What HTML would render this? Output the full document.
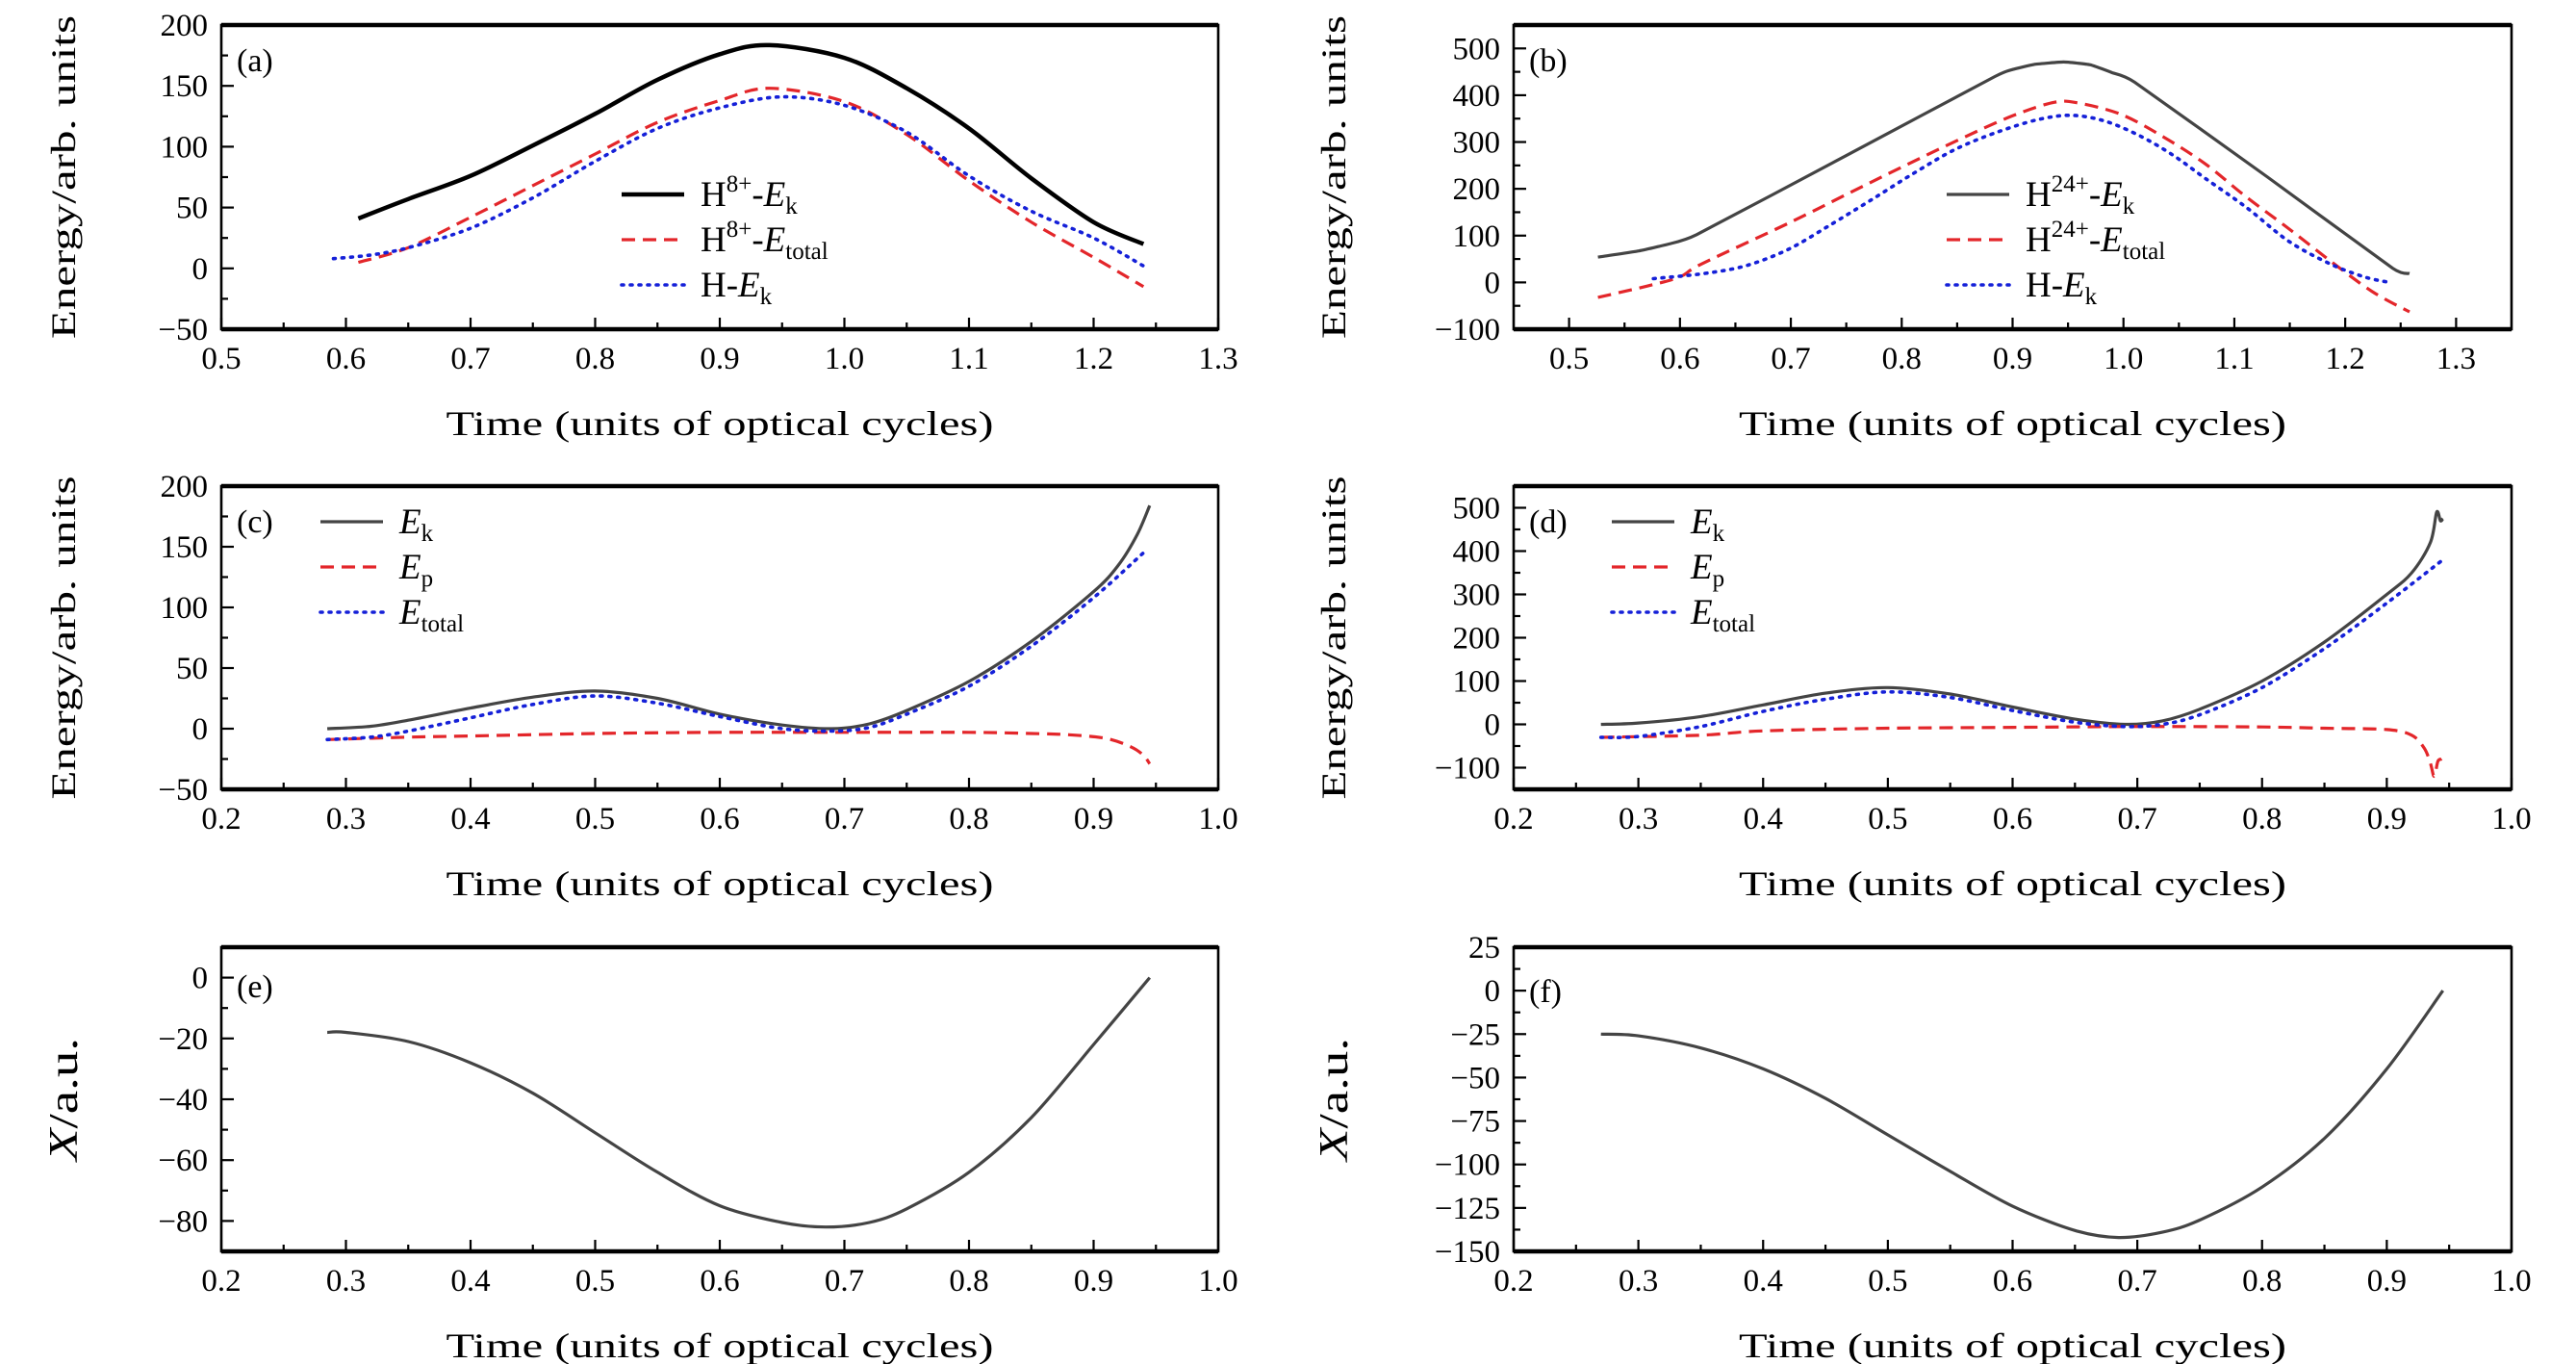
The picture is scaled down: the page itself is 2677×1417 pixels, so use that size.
<!DOCTYPE html>
<html><head><meta charset="utf-8"><style>
html,body{margin:0;padding:0;background:#fff;}
svg{display:block;font-family:"Liberation Serif",serif;}
</style></head><body>
<svg id="fig" width="2677" height="1417" viewBox="0 0 2677 1417" xmlns="http://www.w3.org/2000/svg"></svg>
<script>
// ---- Panel (a) data ----
const aEkX=[0.61,0.65,0.7,0.75,0.8,0.85,0.9,0.94,1.0,1.05,1.1,1.15,1.2,1.24];
const aEkY=[41,57,76,101,127,155,176,183.5,173,148,115,74,38,20];
const aEtX=[0.61,0.65,0.7,0.75,0.8,0.85,0.9,0.94,1.0,1.05,1.1,1.15,1.2,1.24];
const aEtY=[5,17,42,68,94,120,138,148,137,110,72,38,9,-15];
const aHX=[0.59,0.62,0.65,0.7,0.75,0.8,0.85,0.9,0.95,1.0,1.05,1.1,1.15,1.2,1.24];
const aHY=[8,11,17,33,58,88,115,132,141,134,112,76,47,25,2];
// ---- Panel (b) data ----
const bEkX=[0.526,0.562,0.59,0.615,0.75,0.884,0.9,0.92,0.946,0.97,0.99,1.01,1.13,1.243,1.258];
const bEkY=[54,67,82,102,271,440,455,466,471,465,448,428,225,30,19];
const bEtX=[0.526,0.57,0.6,0.62,0.7,0.773,0.848,0.9,0.938,0.96,0.998,1.036,1.074,1.11,1.149,1.186,1.224,1.258];
const bEtY=[-32,-8,12,40,129,215,301,356,385,383,359,311,253,184,115,47,-19,-63];
const bHX=[0.576,0.622,0.66,0.698,0.735,0.773,0.81,0.848,0.886,0.923,0.953,0.983,1.014,1.044,1.074,1.111,1.149,1.186,1.217,1.24];
const bHY=[8,19,36,71,122,177,232,284,321,348,357,345,314,273,222,160,88,40,12,0];
// ---- Panel (c) data ----
const cEkX=[0.285,0.32,0.35,0.4,0.45,0.5,0.55,0.6,0.65,0.69,0.72,0.75,0.8,0.85,0.9,0.92,0.935,0.945];
const cEkY=[0,2,7,17,26,31,25,12,3,0,4,15,39,72,113,135,160,184];
const cEtX=[0.285,0.32,0.35,0.4,0.45,0.5,0.55,0.6,0.65,0.69,0.72,0.75,0.8,0.85,0.9,0.94];
const cEtY=[-9,-7,-2,9,20,27,21,10,0,-2,1,12,35,68,108,145];
const cEpX=[0.285,0.35,0.4,0.5,0.6,0.7,0.8,0.85,0.88,0.91,0.93,0.94,0.945];
const cEpY=[-9,-7,-6,-4,-3,-3,-3,-4,-5,-8,-15,-22,-29];
// ---- Panel (d) data ----
const dEkX=[0.27,0.3,0.35,0.4,0.45,0.5,0.55,0.6,0.65,0.69,0.72,0.75,0.8,0.85,0.9,0.92,0.935,0.94,0.943,0.945];
const dEkY=[0,3,18,45,72,85,70,40,12,0,8,35,100,190,300,350,420,490,470,475];
const dEtX=[0.27,0.3,0.35,0.4,0.45,0.5,0.55,0.6,0.65,0.69,0.72,0.75,0.8,0.85,0.9,0.945];
const dEtY=[-30,-28,-5,30,58,75,62,32,5,-5,0,22,85,175,280,380];
const dEpX=[0.27,0.35,0.4,0.5,0.6,0.7,0.8,0.85,0.9,0.92,0.93,0.935,0.938,0.941,0.944];
const dEpY=[-30,-25,-15,-9,-7,-5,-6,-9,-12,-25,-55,-90,-120,-85,-80];
// ---- Panel (e) data ----
const eX=[0.285,0.3,0.35,0.4,0.45,0.5,0.55,0.6,0.65,0.685,0.72,0.75,0.8,0.85,0.9,0.945];
const eY=[-18,-18,-21,-28,-38,-51,-64,-75,-80.5,-82,-80.5,-76,-64,-46,-22,0];
// ---- Panel (f) data ----
const fX=[0.27,0.3,0.35,0.4,0.45,0.5,0.55,0.6,0.65,0.685,0.72,0.75,0.8,0.85,0.9,0.945];
const fY=[-25,-26,-33,-45,-62,-83,-104,-124,-138,-142,-139,-132,-113,-85,-45,0];
// ---- tick labels ----
const xTicksAB=["0.5","0.6","0.7","0.8","0.9","1.0","1.1","1.2","1.3"];
const xTicksCF=["0.2","0.3","0.4","0.5","0.6","0.7","0.8","0.9","1.0"];
const yTicksA=[-50,0,50,100,150,200];
const yTicksB=[-100,0,100,200,300,400,500];
const yTicksC=[-50,0,50,100,150,200];
const yTicksD=[-100,0,100,200,300,400,500];
const yTicksE=[-80,-60,-40,-20,0];
const yTicksF=[-150,-125,-100,-75,-50,-25,0,25];

const NS="http://www.w3.org/2000/svg";
const svg=document.getElementById('fig');
function mk(tag,attrs,parent){const e=document.createElementNS(NS,tag);for(const k in attrs)e.setAttribute(k,attrs[k]);(parent||svg).appendChild(e);return e;}
function fmt(v){return v<0?'\u2212'+Math.abs(v):String(v);}
function pathD(xs,ys,sx,sy,t){
  const p=xs.map((x,i)=>[sx(x),sy(ys[i])]);
  let d='M'+p[0][0].toFixed(1)+','+p[0][1].toFixed(1);
  for(let i=0;i<p.length-1;i++){
    const p0=p[i-1]||p[i],p1=p[i],p2=p[i+1],p3=p[i+2]||p[i+1];
    const c1=[p1[0]+(p2[0]-p0[0])*t,p1[1]+(p2[1]-p0[1])*t];
    const c2=[p2[0]-(p3[0]-p1[0])*t,p2[1]-(p3[1]-p1[1])*t];
    d+=' C'+c1[0].toFixed(1)+','+c1[1].toFixed(1)+' '+c2[0].toFixed(1)+','+c2[1].toFixed(1)+' '+p2[0].toFixed(1)+','+p2[1].toFixed(1);
  }
  return d;
}
const STY={
  ekA:{stroke:'#000','stroke-width':4.5},
  ek:{stroke:'#444','stroke-width':3.2},
  red:{stroke:'#e3262a','stroke-width':3.2,'stroke-dasharray':'14 8'},
  blue:{stroke:'#1520d8','stroke-width':3.6,'stroke-dasharray':'2 7','stroke-linecap':'round'}
};
function panel(cfg){
  const g=mk('g',{});
  
  
  const {L,R,T,B,x0,x1,y0,y1}=cfg;
  const sx=x=>L+(x-x0)/(x1-x0)*(R-L);
  const sy=y=>B-(y-y0)/(y1-y0)*(B-T);
  const xt=cfg.xt;
  const step=0.1,first=parseFloat(xt[0]);
  for(let k=0;k<=(xt.length-1)*2;k++){
    const v=first+k*step/2, X=sx(v);
    if(X<L-1||X>R+1)continue;
    const len=k%2===0?12:7;
    const t=mk('line',{x1:X,x2:X,y1:B,y2:B-len,stroke:'#000','stroke-width':2.2},g);
    
    
  }
  xt.forEach((s,i)=>{
    const tx=mk('text',{x:sx(first+i*step),y:B+41,'font-size':33,'text-anchor':'middle'},g);
    
    
    tx.textContent=s;
  });
  const yt=cfg.yt, ys=yt[1]-yt[0];
  for(let k=-2;k<=(yt.length)*2+2;k++){
    const v=yt[0]+k*ys/2, Y=sy(v);
    if(Y<T+2||Y>B-2)continue;
    const len=k%2===0?13:7;
    const t=mk('line',{x1:L,x2:L+len,y1:Y,y2:Y,stroke:'#000','stroke-width':2.2},g);
    
    
  }
  yt.forEach(v=>{
    const tx=mk('text',{x:L-14,y:sy(v)+11,'font-size':33,'text-anchor':'end'},g);
    
    
    tx.textContent=fmt(v);
  });
  const fr=mk('rect',{x:L,y:T,width:R-L,height:B-T,fill:'none',stroke:'#000','stroke-width':2.6},g);
  
  
  mk('line',{x1:L,x2:R,y1:T,y2:T,stroke:'#000','stroke-width':4.5},g);
  mk('line',{x1:L,x2:R,y1:B,y2:B,stroke:'#000','stroke-width':4.5},g);
  cfg.series.forEach(s=>{
    const p=mk('path',Object.assign({d:pathD(s.x,s.y,sx,sy,s.t||0.16),fill:'none','stroke-linejoin':'round'},STY[s.st]),g);
    
    
  });
  const pl=mk('text',{x:L+16,y:cfg.lblY,'font-size':34},g);
  
  
  pl.textContent='('+cfg.id+')';
  const xtl=mk('text',{x:(L+R)/2,y:B+110,'font-size':36,'text-anchor':'middle',textLength:569,lengthAdjust:'spacingAndGlyphs'},g);
  
  
  xtl.textContent='Time (units of optical cycles)';
  const cy=(T+B)/2;
  const ytl=mk('text',{x:0,y:0,'font-size':36,'text-anchor':'middle',transform:'translate('+(cfg.yTitleX)+','+cy+') rotate(-90)'},g);
  
  
  if(cfg.yTitle==='E'){ytl.setAttribute('textLength',336);ytl.setAttribute('lengthAdjust','spacingAndGlyphs');ytl.textContent='Energy/arb. units';}
  else{ytl.setAttribute('font-size',42);ytl.setAttribute('textLength',128);ytl.setAttribute('lengthAdjust','spacingAndGlyphs');ytl.innerHTML='<tspan font-style="italic">X</tspan>/a.u.';}
  if(cfg.legend){
    cfg.legend.forEach((it,i)=>{
      const y=cfg.legY+i*47;
      const lg=mk('g',{},g);
      
      
      mk('line',Object.assign({x1:cfg.legX,x2:cfg.legX+65,y1:y,y2:y},STY[it.st]),lg);
      const t=mk('text',{x:cfg.legX+82,y:y+12,'font-size':37},lg);
      t.innerHTML=it.html;
    });
  }
}
const sup=s=>'<tspan font-size="25" dy="-15">'+s+'</tspan><tspan dy="15">-</tspan>';
const Ek='<tspan font-style="italic">E</tspan><tspan font-size="25" dy="8">k</tspan>';
const Et='<tspan font-style="italic">E</tspan><tspan font-size="25" dy="8">total</tspan>';
const Ep='<tspan font-style="italic">E</tspan><tspan font-size="25" dy="8">p</tspan>';
const LA=230,RA=1266,LB=1573,RB=2610;
panel({id:'a',L:LA,R:RA,T:26,B:342,x0:0.5,x1:1.3,y0:-50,y1:200,xt:xTicksAB,yt:yTicksA,lblY:74,yTitleX:78,yTitle:'E',
  series:[{x:aEkX,y:aEkY,st:'ekA',name:'h8-ek-line'},{x:aEtX,y:aEtY,st:'red',name:'h8-etotal-line'},{x:aHX,y:aHY,st:'blue',name:'h-ek-line'}],
  legX:646,legY:202,legend:[{st:'ekA',html:'H'+sup('8+')+Ek},{st:'red',html:'H'+sup('8+')+Et},{st:'blue',html:'H-'+Ek}]});
panel({id:'b',L:LB,R:RB,T:26,B:342,x0:0.45,x1:1.35,y0:-100,y1:550,xt:xTicksAB,yt:yTicksB,lblY:74,yTitleX:1398,yTitle:'E',
  series:[{x:bEkX,y:bEkY,st:'ek',name:'h24-ek-line',t:0.07},{x:bEtX,y:bEtY,st:'red',name:'h24-etotal-line'},{x:bHX,y:bHY,st:'blue',name:'h-ek-line'}],
  legX:2023,legY:202,legend:[{st:'ek',html:'H'+sup('24+')+Ek},{st:'red',html:'H'+sup('24+')+Et},{st:'blue',html:'H-'+Ek}]});
panel({id:'c',L:LA,R:RA,T:505,B:820,x0:0.2,x1:1.0,y0:-50,y1:200,xt:xTicksCF,yt:yTicksC,lblY:553,yTitleX:78,yTitle:'E',
  series:[{x:cEkX,y:cEkY,st:'ek',name:'ek-line'},{x:cEpX,y:cEpY,st:'red',name:'ep-line'},{x:cEtX,y:cEtY,st:'blue',name:'etotal-line'}],
  legX:333,legY:542,legend:[{st:'ek',html:Ek},{st:'red',html:Ep},{st:'blue',html:Et}]});
panel({id:'d',L:LB,R:RB,T:505,B:820,x0:0.2,x1:1.0,y0:-150,y1:550,xt:xTicksCF,yt:yTicksD,lblY:553,yTitleX:1398,yTitle:'E',
  series:[{x:dEkX,y:dEkY,st:'ek',name:'ek-line'},{x:dEpX,y:dEpY,st:'red',name:'ep-line'},{x:dEtX,y:dEtY,st:'blue',name:'etotal-line'}],
  legX:1675,legY:542,legend:[{st:'ek',html:Ek},{st:'red',html:Ep},{st:'blue',html:Et}]});
panel({id:'e',L:LA,R:RA,T:984,B:1300,x0:0.2,x1:1.0,y0:-90,y1:10,xt:xTicksCF,yt:yTicksE,lblY:1036,yTitleX:80,yTitle:'X',
  series:[{x:eX,y:eY,st:'ek',name:'x-trajectory-line'}]});
panel({id:'f',L:LB,R:RB,T:984,B:1300,x0:0.2,x1:1.0,y0:-150,y1:25,xt:xTicksCF,yt:yTicksF,lblY:1041,yTitleX:1400,yTitle:'X',
  series:[{x:fX,y:fY,st:'ek',name:'x-trajectory-line'}]});
</script>
</body></html>
